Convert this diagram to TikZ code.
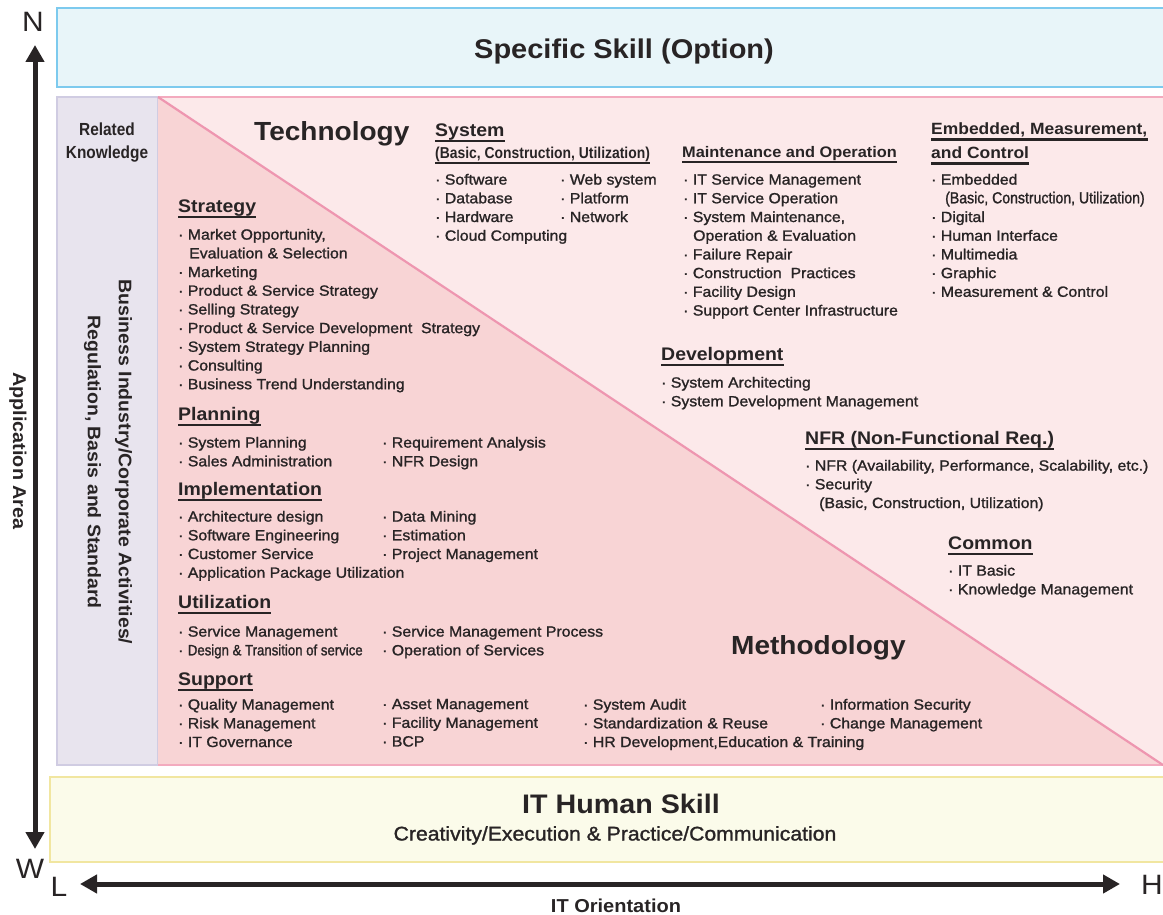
\documentclass[tikz,border=0pt]{standalone}
\usepackage{fontspec}
\setmainfont{Liberation Sans}[FakeStretch=1.07]
\newfontfamily\itmfont{Liberation Sans}[FakeStretch=1.07,FakeBold=1.3]
\newfontfamily\narrowfont{Liberation Sans}[FakeStretch=0.88]
\newfontfamily\narrowitm{Liberation Sans}[FakeStretch=0.88,FakeBold=1.3]
\usetikzlibrary{arrows.meta}

\definecolor{inkdark}{RGB}{40,36,37}
\definecolor{skyfill}{RGB}{232,245,249}
\definecolor{skyline}{RGB}{125,202,238}
\definecolor{lavfill}{RGB}{232,228,238}
\definecolor{lavline}{RGB}{208,204,226}
\definecolor{pinklight}{RGB}{252,233,234}
\definecolor{pinkdark}{RGB}{248,212,213}
\definecolor{pinkline}{RGB}{243,170,190}
\definecolor{diagline}{RGB}{238,150,176}
\definecolor{yellowfill}{RGB}{251,251,234}
\definecolor{yellowline}{RGB}{241,230,160}

\begin{document}
\begin{tikzpicture}[x=1pt,y=-1pt]
            % skill map: option / knowledge areas / human skill, with the two orientation axes
            \tikzstyle{hd} = [anchor=base west, inner xsep=0pt, inner ysep=1.5pt, text depth=3pt, text=inkdark,
                font=\bfseries\fontsize{18.2}{20}\selectfont,
                append after command={(\tikzlastnode.south west) edge[draw=inkdark, line width=2.2pt] (\tikzlastnode.south east)}];
            \tikzstyle{itemlist} = [anchor=north west, inner sep=0pt, align=left, text=inkdark,
                font=\itmfont\fontsize{14.8}{18.7}\selectfont];
            \tikzstyle{bighd} = [anchor=base west, inner sep=0pt, text=inkdark, font=\bfseries\fontsize{26.2}{30}\selectfont];
            \tikzstyle{letter} = [inner sep=0pt, text=inkdark, font=\fontsize{28}{30}\selectfont];
            \tikzstyle{axis} = [draw=inkdark, line width=5pt,
                {Triangle[length=17pt,width=18pt]}-{Triangle[length=17pt,width=18pt]}];

            \useasboundingbox (0,0) rectangle (1163,915);

            % areas
            \draw[draw=skyline, fill=skyfill, line width=2pt] (57,8) rectangle (1185,87);
            \draw[draw=lavline, fill=lavfill, line width=1.5pt] (57,97) rectangle (158,765);
            \fill[pinklight] (158,97) rectangle (1185,765);
            \fill[pinkdark] (158,97) -- (158,765) -- (1163,765) -- cycle;
            \draw[pinkline, line width=2pt] (158,97) -- (1185,97);
            \draw[pinkline, line width=2pt] (158,765) -- (1185,765);
            \draw[diagline, line width=2.2pt] (158,97) -- (1163,765);
            \draw[draw=yellowline, fill=yellowfill, line width=2pt] (50,777) rectangle (1185,862);

            \node[anchor=base, inner sep=0pt, text=inkdark, font=\bfseries\fontsize{27.1}{30}\selectfont] (specific) at (624,58.5) {Specific Skill (Option)};
            \node[anchor=base, inner sep=0pt, text=inkdark, font=\bfseries\fontsize{26.8}{30}\selectfont] (human) at (621,813) {IT Human Skill};
            \node[anchor=base, inner sep=0pt, text=inkdark, font=\itmfont\fontsize{19.8}{22}\selectfont] (human_sub) at (615,840.5) {Creativity/Execution \& Practice/Communication};

            \node[anchor=north, inner sep=0pt, align=center, text=inkdark, font=\narrowfont\bfseries\fontsize{17.5}{23}\selectfont] (related) at (107,122.5) {Related\\Knowledge};
            \node[rotate=-90, inner sep=0pt, align=center, text=inkdark, font=\bfseries\fontsize{18.2}{31}\selectfont] (business) at (108,462) {Business Industry/Corporate Activities/\\Regulation, Basis and Standard};

            \node[bighd] (technology) at (254,140.4) {Technology};
            \node[bighd] (methodology) at (731,654.4) {Methodology};

            % technology side
            \node[hd] (system_hd) at (435,136.5) {System};
            \node[hd, font=\narrowfont\bfseries\fontsize{15.8}{18}\selectfont] (system_sub) at (435,158.7) {(Basic, Construction, Utilization)};
            \node[itemlist] (system_list) at (435,173.7) {· Software\\· Database\\· Hardware\\· Cloud Computing};
            \node[itemlist] (system_listb) at (560,173.7) {· Web system\\· Platform\\· Network};

            \node[hd, font=\bfseries\fontsize{15.3}{18}\selectfont] (maint_hd) at (682,157.5) {Maintenance and Operation};
            \node[itemlist] (maint_list) at (683,173.7) {· IT Service Management\\· IT Service Operation\\· System Maintenance,\\\hspace*{10pt}Operation \& Evaluation\\· Failure Repair\\· Construction\ \ Practices\\· Facility Design\\· Support Center Infrastructure};

            \node[hd, font=\bfseries\fontsize{16.3}{18}\selectfont] (embedded_hd) at (931,134.8) {Embedded, Measurement,};
            \node[hd, font=\bfseries\fontsize{16.3}{18}\selectfont] (embedded_hdb) at (931,158.8) {and Control};
            \node[itemlist] (embedded_list) at (931,173.7) {· Embedded\\\hspace*{14pt}{\narrowitm\fontsize{16}{18.7}\selectfont (Basic, Construction, Utilization)}\\· Digital\\· Human Interface\\· Multimedia\\· Graphic\\· Measurement \& Control};

            \node[hd] (dev_hd) at (661,360.5) {Development};
            \node[itemlist] (dev_list) at (661,376.7) {· System Architecting\\· System Development Management};

            \node[hd] (nfr_hd) at (805,444.6) {NFR (Non-Functional Req.)};
            \node[itemlist] (nfr_list) at (805,459.7) {· NFR (Availability, Performance, Scalability, etc.)\\· Security\\\hspace*{14pt}(Basic, Construction, Utilization)};

            \node[hd] (common_hd) at (948,549.5) {Common};
            \node[itemlist] (common_list) at (948,564.7) {· IT Basic\\· Knowledge Management};

            % methodology side
            \node[hd] (strategy_hd) at (178,212.5) {Strategy};
            \node[itemlist] (strategy_list) at (178,228.7) {· Market Opportunity,\\\hspace*{11pt}Evaluation \& Selection\\· Marketing\\· Product \& Service Strategy\\· Selling Strategy\\· Product \& Service Development\ \ Strategy\\· System Strategy Planning\\· Consulting\\· Business Trend Understanding};

            \node[hd] (planning_hd) at (178,420.5) {Planning};
            \node[itemlist] (planning_list) at (178,436.7) {· System Planning\\· Sales Administration};
            \node[itemlist] (planning_listb) at (382,436.7) {· Requirement Analysis\\· NFR Design};

            \node[hd] (impl_hd) at (178,495.5) {Implementation};
            \node[itemlist] (impl_list) at (178,510.7) {· Architecture design\\· Software Engineering\\· Customer Service\\· Application Package Utilization};
            \node[itemlist] (impl_listb) at (382,510.7) {· Data Mining\\· Estimation\\· Project Management};

            \node[hd] (util_hd) at (178,608.5) {Utilization};
            \node[itemlist] (util_list) at (178,625.7) {· Service Management\\· {\narrowitm\fontsize{15}{18.7}\selectfont Design \& Transition of service}};
            \node[itemlist] (util_listb) at (382,625.7) {· Service Management Process\\· Operation of Services};

            \node[hd] (support_hd) at (178,685.5) {Support};
            \node[itemlist] (support_list) at (178,698.7) {· Quality Management\\· Risk Management\\· IT Governance};
            \node[itemlist] (support_listb) at (382,698.7) {· Asset Management\\· Facility Management\\· BCP};
            \node[itemlist] (support_listc) at (583,698.7) {· System Audit\\· Standardization \& Reuse\\· HR Development,Education \& Training};
            \node[itemlist] (support_listd) at (820,698.7) {· Information Security\\· Change Management};

            % axes
            \node[letter] (north) at (33,22) {N};
            \node[letter] (west) at (30,869) {W};
            \node[letter] (low) at (59,887) {L};
            \node[letter] (high) at (1152,885) {H};
            \coordinate (n_tip) at (35,45);
            \coordinate (w_tip) at (35,849);
            \coordinate (l_tip) at (80,884);
            \coordinate (h_tip) at (1120,884);
            \draw[axis] (w_tip) -- (n_tip);
            \draw[axis] (l_tip) -- (h_tip);
            \node[rotate=-90, inner sep=0pt, text=inkdark, font=\bfseries\fontsize{18.5}{20}\selectfont] (app_area) at (18,451) {Application Area};
            \node[anchor=base, inner sep=0pt, text=inkdark, font=\bfseries\fontsize{18.7}{20}\selectfont] (it_orient) at (616,912.5) {IT Orientation};

        \end{tikzpicture}
\end{document}
